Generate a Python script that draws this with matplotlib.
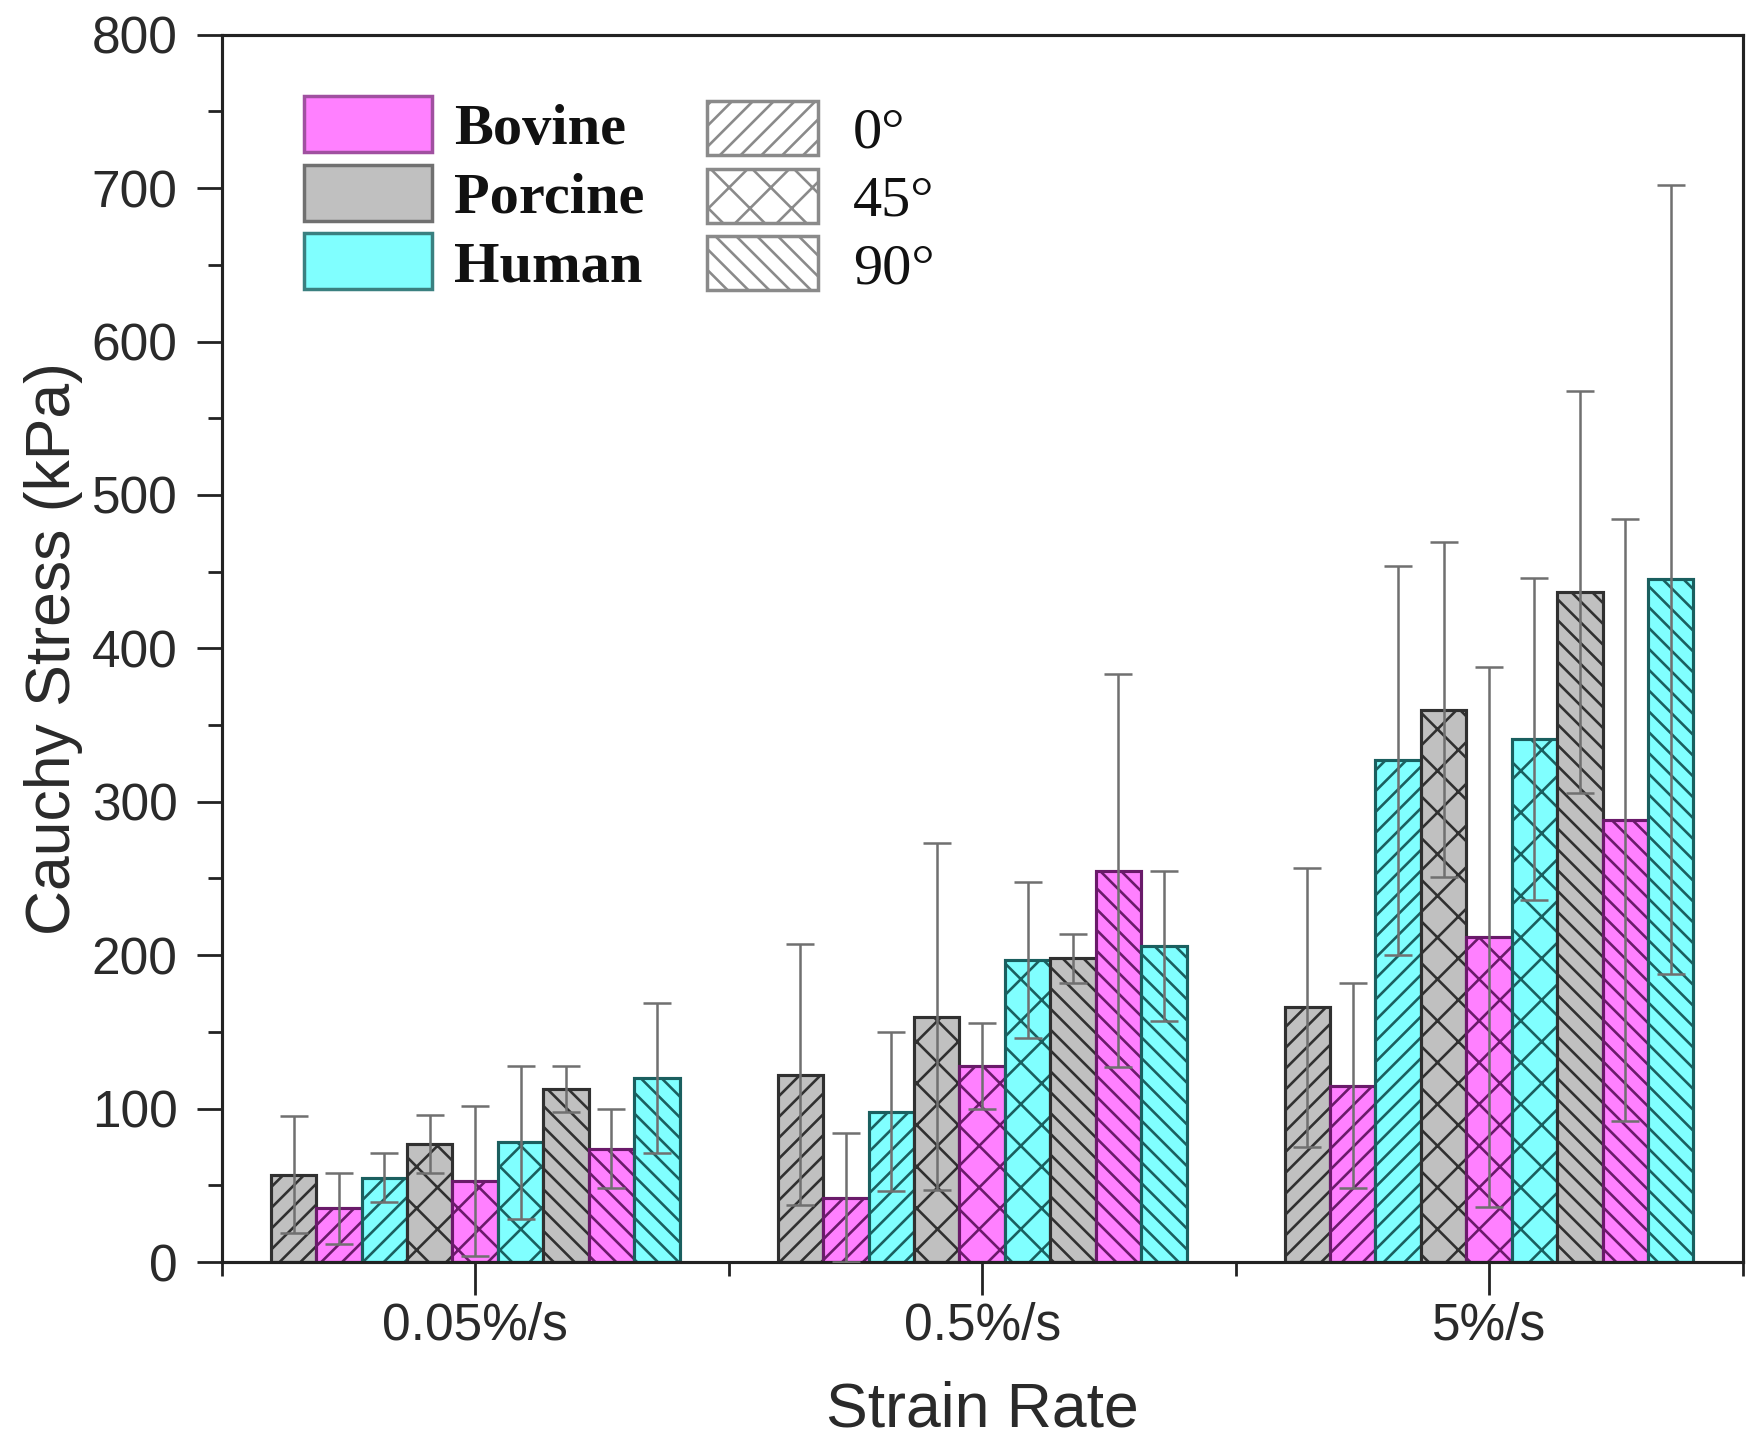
import numpy as np
import matplotlib.pyplot as plt
from matplotlib.patches import Patch

rates = ['0.05%/s', '0.5%/s', '5%/s']
species = ['Porcine', 'Bovine', 'Human']
angles = ['0°', '45°', '90°']

# mean Cauchy stress (kPa), one value per strain rate
porcine_0 = [57, 122, 166]
bovine_0 = [35, 42, 115]
human_0 = [55, 98, 327]
porcine_45 = [77, 160, 360]
bovine_45 = [53, 128, 212]
human_45 = [78, 197, 341]
porcine_90 = [113, 198, 437]
bovine_90 = [74, 255, 288]
human_90 = [120, 206, 445]

# standard deviations (kPa)
porcine_0_sd = [38, 85, 91]
bovine_0_sd = [23, 42, 67]
human_0_sd = [16, 52, 127]
porcine_45_sd = [19, 113, 109]
bovine_45_sd = [49, 28, 176]
human_45_sd = [50, 51, 105]
porcine_90_sd = [15, 16, 131]
bovine_90_sd = [26, 128, 196]
human_90_sd = [49, 49, 257]

series = [
    ('Porcine', '0°', porcine_0, porcine_0_sd),
    ('Bovine', '0°', bovine_0, bovine_0_sd),
    ('Human', '0°', human_0, human_0_sd),
    ('Porcine', '45°', porcine_45, porcine_45_sd),
    ('Bovine', '45°', bovine_45, bovine_45_sd),
    ('Human', '45°', human_45, human_45_sd),
    ('Porcine', '90°', porcine_90, porcine_90_sd),
    ('Bovine', '90°', bovine_90, bovine_90_sd),
    ('Human', '90°', human_90, human_90_sd),
]

fill = {'Bovine': '#ff80ff', 'Porcine': '#c0c0c0', 'Human': '#80ffff'}
edge = {'Bovine': '#6a1a6a', 'Porcine': '#303030', 'Human': '#1a5f5f'}
hatch = {'0°': '//', '45°': 'x', '90°': '\\\\'}

plt.rcParams['hatch.linewidth'] = 1.5
txt = '#2a2a2a'
sans = 'Liberation Sans'
serif = 'Liberation Serif'

# dpi 125 keeps the hatch spacing close to the original (~21 px)
fig = plt.figure(figsize=(13.968, 11.552), dpi=125)
ax = fig.add_axes([0.127, 0.126, 0.871, 0.85])

x = np.arange(1, len(rates) + 1)
w = 0.0896
for k, (sp, ang, vals, sd) in enumerate(series):
    pos = x + (k - 4) * w
    ax.bar(pos, vals, width=w, color=fill[sp], edgecolor=edge[sp],
           hatch=hatch[ang], linewidth=1.8, zorder=2)
    ax.errorbar(pos, vals, yerr=sd, fmt='none', ecolor='#707070',
                elinewidth=1.45, capsize=8, capthick=1.45, zorder=3)

ax.set_xlim(0.5, 3.5)
ax.set_ylim(0, 800)
ax.set_xticks(x)
ax.set_xticklabels(rates)
ax.set_xticks([0.5, 1.5, 2.5, 3.5], minor=True)
ax.set_yticks(np.arange(0, 801, 100))
ax.set_yticks(np.arange(50, 800, 100), minor=True)

for s in ax.spines.values():
    s.set_linewidth(1.8)
    s.set_color('#222222')

ax.tick_params(axis='both', which='major', direction='out', length=14.5,
               width=1.6, colors='#222222', labelsize=29.6, labelcolor=txt)
ax.tick_params(axis='both', which='minor', direction='out', length=8,
               width=1.6, colors='#222222')
ax.tick_params(axis='y', which='major', pad=11)
ax.tick_params(axis='x', which='major', pad=4, length=19)
for lab in ax.get_xticklabels() + ax.get_yticklabels():
    lab.set_fontname(sans)

ax.set_xlabel('Strain Rate', fontsize=36, fontname=sans, color=txt, labelpad=17)
ax.set_ylabel('Cauchy Stress (kPa)', fontsize=36, fontname=sans, color=txt, labelpad=5)

# legend: species colours
sp_order = ['Bovine', 'Porcine', 'Human']
sp_edge = {'Bovine': '#a050a0', 'Porcine': '#707070', 'Human': '#3a8080'}
h1 = [Patch(facecolor=fill[s], edgecolor=sp_edge[s], linewidth=2) for s in sp_order]
leg1 = ax.legend(h1, sp_order, loc='upper left', bbox_to_anchor=(0.054, 0.950),
                 frameon=False, borderpad=0, borderaxespad=0,
                 handlelength=2.2, handleheight=1.1, handletextpad=0.38,
                 labelspacing=0.15,
                 prop={'family': serif, 'weight': 'bold', 'size': 33.6})
ax.add_artist(leg1)

# legend: fibre angle hatches
h2 = [Patch(facecolor='white', edgecolor='#8a8a8a', hatch=hatch[a], linewidth=2)
      for a in angles]
leg2 = ax.legend(h2, angles, loc='upper left', bbox_to_anchor=(0.319, 0.946),
                 frameon=False, borderpad=0, borderaxespad=0,
                 handlelength=1.9, handleheight=1.05, handletextpad=0.6,
                 labelspacing=0.15,
                 prop={'family': serif, 'size': 33.6})
for t in leg1.get_texts() + leg2.get_texts():
    t.set_color('#111111')

fig.savefig('out.png', dpi=125)
